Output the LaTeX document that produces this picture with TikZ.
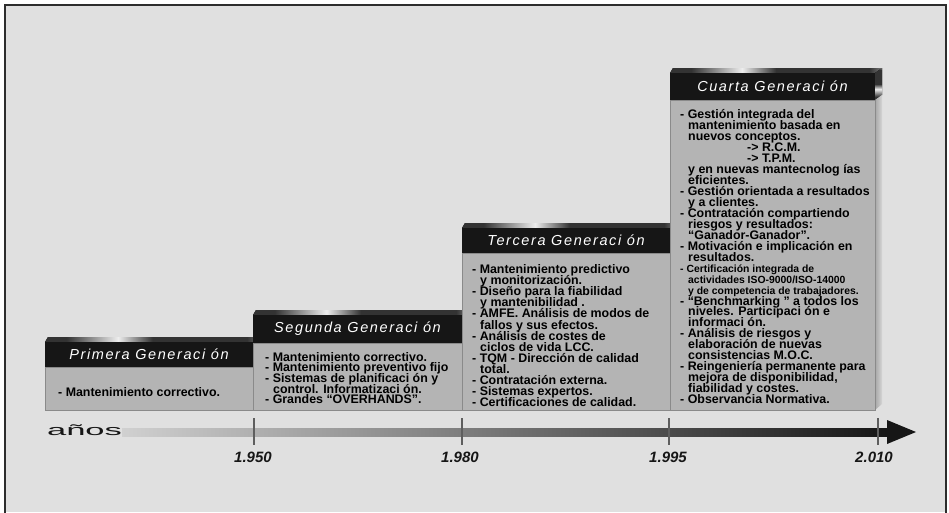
\documentclass[tikz,border=0pt]{standalone}
\usepackage{fontspec}
\setmainfont{Liberation Sans}
\newfontfamily\hdrfont[LetterSpace=11]{Liberation Sans}
\definecolor{bg}{HTML}{E0E0E0}
\definecolor{hdr}{HTML}{161616}
\definecolor{bodygray}{HTML}{B4B4B4}
\definecolor{bodyedge}{HTML}{8A8A8A}
\definecolor{mA}{HTML}{A8A8A8}
\definecolor{mD}{HTML}{333333}
\definecolor{mL}{HTML}{EDEDED}
\definecolor{sideL}{HTML}{A6A6A6}
\definecolor{sideR}{HTML}{D6D6D6}
\definecolor{tickgray}{HTML}{5E5E5E}
\definecolor{shaftL}{HTML}{D0D0D0}
\definecolor{shaftM}{HTML}{5A5A5A}
\pgfdeclarehorizontalshading{metal}{100bp}{color(0bp)=(mA); color(12bp)=(mD); color(30bp)=(mD); color(42bp)=(mL); color(50bp)=(mD); color(72bp)=(mD); color(80bp)=(mL); color(90bp)=(mD); color(100bp)=(mA)}
\newcommand\genbox[4]{%
  \fill[shading=metal] (#1,#3) -- (#1+3,#3-5) -- (#2+7,#3-5) -- (#2,#3) -- cycle;
  \fill[shading=metal,shading angle=90] (#2,#3) -- (#2+7,#3-5) -- (#2+7,#4-5) -- (#2,#4) -- cycle;
  \shade[left color=sideL,right color=sideR] (#2,#4) -- (#2+7,#4-5) -- (#2+7,404) -- (#2,410) -- cycle;
  \fill[hdr] (#1,#3) rectangle (#2,#4);
  \filldraw[fill=bodygray,draw=bodyedge,line width=1pt] (#1,#4) rectangle (#2,410);
}
\newcommand\ind{\hspace*{8pt}}
\newcommand\firstln{\rule{0pt}{10pt}}
\newcommand\bodyfont[2]{\bfseries\fontsize{#1}{#2}\selectfont\lineskiplimit -50pt\relax}
\newcommand\smallln{\fontsize{10.4}{10.96}\selectfont}
\begin{document}
\begin{tikzpicture}[x=1pt,y=-1pt,
  hdrtext/.style={text=white,font=\hdrfont\itshape\fontsize{14.5}{14.5}\selectfont,inner sep=0pt},
  bodytext/.style={anchor=north west,align=left,inner sep=0pt,text=black},
  yr/.style={anchor=base,font=\bfseries\itshape\fontsize{15}{15}\selectfont,text=hdr,inner sep=0pt},
  tick/.style={draw=tickgray,line width=2pt}]
\useasboundingbox (0,0) rectangle (949,512);
\fill[white] (0,0) rectangle (949,512);
\fill[bg] (5,5) rectangle (946,512);
\draw[line width=2pt,draw=hdr!90] (5,520) -- (5,5) -- (946,5) -- (946,520);

% boxes
\genbox{45}{253}{342}{367}
\genbox{253}{462}{315}{343}
\genbox{462}{670}{228}{253}
\genbox{670}{875}{73}{100}

% headers
\node[hdrtext] (h1) at ({(45+253)/2},{(342+367)/2}) {Primera Generaci ón};
\node[hdrtext] (h2) at ({(253+462)/2},{(315+343)/2}) {Segunda Generaci ón};
\node[hdrtext] (h3) at ({(462+670)/2},{(228+253)/2}) {Tercera Generaci ón};
\node[hdrtext] (h4) at ({(670+875)/2},{(73+100)/2}) {Cuarta Generaci ón};

% bodies
\node[bodytext,font={\bodyfont{12.4}{12}}] (b1) at (58,386.5)
 {\firstln- Mantenimiento correctivo.};
\node[bodytext,font={\bodyfont{12.4}{10.65}}] (b2) at (265,351)
 {\firstln- Mantenimiento correctivo.\\
  - Mantenimiento preventivo fijo\\
  - Sistemas de planificaci ón y\\
  \ind control. Informatizaci ón.\\
  - Grandes “OVERHANDS”.};
\node[bodytext,font={\bodyfont{12.4}{11.06}}] (b3) at (472,263.5)
 {\firstln- Mantenimiento predictivo\\
  \ind y monitorización.\\
  - Diseño para la fiabilidad\\
  \ind y mantenibilidad .\\
  - AMFE. Análisis de modos de\\
  \ind fallos y sus efectos.\\
  - Análisis de costes de\\
  \ind ciclos de vida LCC.\\
  - TQM - Dirección de calidad\\
  \ind total.\\
  - Contratación externa.\\
  - Sistemas expertos.\\
  - Certificaciones de calidad.};
\node[bodytext,font={\bodyfont{12.4}{10.96}}] (b4) at (680,108.5)
 {\firstln- Gestión integrada del\\
  \ind mantenimiento basada en\\
  \ind nuevos conceptos.\\
  \hspace*{67pt}-> R.C.M.\\
  \hspace*{67pt}-> T.P.M.\\
  \ind y en nuevas mantecnolog ías\\
  \ind eficientes.\\
  - Gestión orientada a resultados\\
  \ind y a clientes.\\
  - Contratación compartiendo\\
  \ind riesgos y resultados:\\
  \ind “Ganador-Ganador”.\\
  - Motivación e implicación en\\
  \ind resultados.\\
  {\smallln - Certificación integrada de}\\
  {\smallln\ind actividades ISO-9000/ISO-14000}\\
  {\smallln\ind y de competencia de trabajadores.}\\
  - “Benchmarking ” a todos los\\
  \ind niveles. Participaci ón e\\
  \ind informaci ón.\\
  - Análisis de riesgos y\\
  \ind elaboración de nuevas\\
  \ind consistencias  M.O.C.\\
  - Reingeniería permanente para\\
  \ind mejora de disponibilidad,\\
  \ind fiabilidad y costes.\\
  - Observancia Normativa.};

% timeline
\coordinate (tl0) at (122,432);
\coordinate (tl1) at (887,432);
\coordinate (tip) at (916,432);
\shade[left color=shaftL,middle color=shaftM,right color=hdr] ([yshift=-4pt]tl0) rectangle ([yshift=4pt]tl1);
\fill[hdr] ([yshift=-12pt]tl1) -- (tip) -- ([yshift=12pt]tl1) -- cycle;
\node[anchor=base,inner sep=0pt,text=hdr] (anos) at (84.5,435.5) {\scalebox{2.3}[1]{\fontsize{15}{15}\selectfont años}};
\draw[tick] (254,418) -- (254,445);
\draw[tick] (462,418) -- (462,445);
\draw[tick] (669,418) -- (669,445);
\draw[tick] (878,418) -- (878,445);
\node[yr] (y1) at (253,462.7) {1.950};
\node[yr] (y2) at (460,462.7) {1.980};
\node[yr] (y3) at (668,462.7) {1.995};
\node[yr] (y4) at (874,462.7) {2.010};
\end{tikzpicture}
\end{document}
